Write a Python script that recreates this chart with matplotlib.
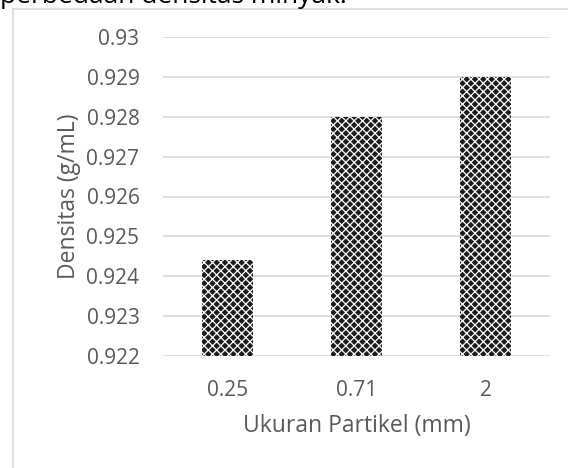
import matplotlib
matplotlib.use("Agg")
import matplotlib.pyplot as plt
from matplotlib.lines import Line2D

categories = ["0.25", "0.71", "2"]
densitas = [0.9244, 0.928, 0.929]
yticks = [0.922, 0.923, 0.924, 0.925, 0.926, 0.927, 0.928, 0.929, 0.93]
ytick_labels = ["0.922", "0.923", "0.924", "0.925", "0.926", "0.927", "0.928", "0.929", "0.93"]

GREY = "#595959"
GRID = "#d9d9d9"
W, H = 568, 468

plt.rcParams["font.family"] = ["Open Sans", "DejaVu Sans"]
plt.rcParams["hatch.color"] = "white"
plt.rcParams["hatch.linewidth"] = 0.9

fig = plt.figure(figsize=(W / 100, H / 100), dpi=100)

# chart frame: only left and top edges fall inside the picture
fig.lines.append(Line2D([12.5 / W, 12.5 / W], [0, 1 - 9 / H], transform=fig.transFigure,
                        color=GRID, lw=1.2))
fig.lines.append(Line2D([12.5 / W, 1], [1 - 9 / H, 1 - 9 / H], transform=fig.transFigure,
                        color=GRID, lw=1.2))

# caption from the page, cut off at the top edge
fig.text(0.0, 1 - 3 / H, "perbedaan densitas minyak.", fontsize=19, color="black",
         ha="left", va="baseline")

ax = fig.add_axes([163 / W, 1 - 356 / H, (550 - 163) / W, (356 - 37) / H])
x = range(len(categories))
ax.bar(x, densitas, width=0.4, color="#1c1c1c", hatch="xxxx", lw=0, zorder=3)

ax.set_ylim(0.922, 0.93)
ax.set_xlim(-0.5, 2.5)
ax.set_yticks(yticks)
ax.set_yticklabels(ytick_labels)
ax.set_xticks(list(x))
ax.set_xticklabels(categories)
ax.yaxis.grid(True, color=GRID, lw=1.2)
ax.set_axisbelow(True)
for s in ax.spines.values():
    s.set_visible(False)
ax.tick_params(length=0, labelsize=15, colors=GREY)
ax.tick_params(axis="y", pad=17)
ax.tick_params(axis="x", pad=17)
ax.set_xlabel("Ukuran Partikel (mm)", fontsize=16.5, color=GREY, labelpad=10)
ax.set_ylabel("Densitas (g/mL)", fontsize=16.5, color=GREY, labelpad=4)

fig.savefig("out.png", dpi=100)
